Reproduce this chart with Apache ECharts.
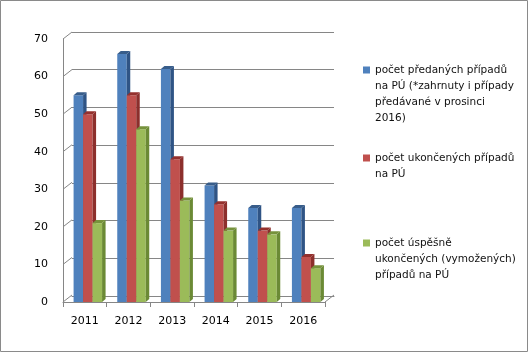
<!DOCTYPE html>
<html>
<head>
<meta charset="utf-8">
<script src="https://cdn.jsdelivr.net/npm/echarts@6/dist/echarts.min.js"></script>
<style>
  html, body { margin: 0; padding: 0; background: #fff; }
  #chart { width: 529px; height: 353px; }
</style>
</head>
<body>
<div id="chart"></div>
<script>
const years = ['2011', '2012', '2013', '2014', '2015', '2016'];
const predane = [55, 66, 62, 31, 25, 25];
const ukoncene = [50, 55, 38, 26, 19, 12];
const uspesne = [21, 46, 27, 19, 18, 9];
const yTicks = [0, 10, 20, 30, 40, 50, 60, 70];

const names = [
  'počet předaných případů\nna PÚ (*zahrnuty i případy\npředávané v prosinci\n2016)',
  'počet ukončených případů\nna PÚ',
  'počet úspěšně\nukončených (vymožených)\npřípadů na PÚ'
];

const font = 'DejaVu Sans';
const gridColor = '#868686';

// 3D-looking bar: front face, darker side and top
function bar3d(k, front, side, top) {
  return function (params, api) {
    const i = api.value(0);
    const v = api.value(1);
    const p0 = api.coord([i, 0]);
    const p1 = api.coord([i, v]);
    const w = 9.5, dx = 3.5, dy = -3;
    const x = p0[0] + (k - 1) * w - w / 2 + 3;
    return {
      type: 'group',
      children: [
        { type: 'rect', shape: { x: x, y: p1[1], width: w, height: p0[1] - p1[1] }, style: { fill: front } },
        { type: 'polygon', shape: { points: [[x + w, p1[1]], [x + w + dx, p1[1] + dy], [x + w + dx, p0[1] + dy], [x + w, p0[1]]] }, style: { fill: side } },
        { type: 'polygon', shape: { points: [[x, p1[1]], [x + dx, p1[1] + dy], [x + w + dx, p1[1] + dy], [x + w, p1[1]]] }, style: { fill: top } }
      ]
    };
  };
}

function legendName(n, pad) {
  return '\n'.repeat(pad) + n;
}

const chart = echarts.init(document.getElementById('chart'));
chart.setOption({
  animation: false,
  backgroundColor: '#fff',
  textStyle: { fontFamily: font },
  graphic: [{
    type: 'rect', shape: { x: 0.5, y: 0.5, width: 527, height: 351 },
    style: { fill: 'none', stroke: '#8a8a8a', lineWidth: 1 }, silent: true
  }],
  legend: [
    { data: [names[0]], top: 14 },
    { data: [names[1]], top: 134 },
    { data: [names[2]], top: 203 }
  ].map((l, j) => Object.assign(l, {
    left: 363, orient: 'vertical', padding: 0,
    icon: 'rect', itemWidth: 7, itemHeight: 7, itemGap: 5,
    selectedMode: false,
    formatter: n => legendName(n, [3, 1, 2][j]),
    textStyle: { fontFamily: font, fontSize: 10.5, color: '#111', lineHeight: 16 }
  })),
  grid: [
    { left: 72, right: 195, top: 32, bottom: 57 },
    { left: 63, right: 204, top: 39, bottom: 51 }
  ],
  xAxis: [
    {
      gridIndex: 0, type: 'category', data: years,
      axisLine: { lineStyle: { color: gridColor } },
      axisTick: { show: false }, axisLabel: { show: false }
    },
    {
      gridIndex: 1, type: 'category', data: years,
      axisLine: { lineStyle: { color: gridColor } },
      axisTick: { show: true, length: 5, lineStyle: { color: gridColor } },
      axisLabel: { color: '#000', fontSize: 11, margin: 14, fontFamily: font }
    }
  ],
  yAxis: [
    {
      gridIndex: 0, type: 'value', min: 0, max: 70, interval: 10,
      axisLine: { show: false }, axisTick: { show: false }, axisLabel: { show: false },
      splitLine: { lineStyle: { color: gridColor } }
    },
    {
      gridIndex: 1, type: 'value', min: 0, max: 70, interval: 10,
      axisLine: { show: true, lineStyle: { color: gridColor } },
      axisTick: { show: false },
      axisLabel: { color: '#000', fontSize: 11, margin: 15, fontFamily: font },
      splitLine: { show: false }
    }
  ],
  series: [
    {
      // diagonal links from the front axis to the back wall
      type: 'custom', xAxisIndex: 1, yAxisIndex: 1, silent: true,
      data: yTicks.map(v => [0, v]),
      renderItem: function (params, api) {
        const cs = params.coordSys;
        const y = api.coord([0, api.value(1)])[1];
        const lines = [{ type: 'line', shape: { x1: cs.x, y1: y, x2: cs.x + 9, y2: y - 7 }, style: { stroke: gridColor, lineWidth: 1 } }];
        if (api.value(1) === 0) {
          lines.push({ type: 'line', shape: { x1: cs.x + cs.width, y1: y, x2: cs.x + cs.width + 9, y2: y - 7 }, style: { stroke: gridColor, lineWidth: 1 } });
        }
        return { type: 'group', children: lines };
      }
    },
    {
      name: names[0], type: 'custom', xAxisIndex: 1, yAxisIndex: 1,
      itemStyle: { color: '#4F81BD' },
      data: predane.map((v, i) => [i, v]),
      renderItem: bar3d(0, '#4F81BD', '#2F5485', '#385D8A')
    },
    {
      name: names[1], type: 'custom', xAxisIndex: 1, yAxisIndex: 1,
      itemStyle: { color: '#C0504D' },
      data: ukoncene.map((v, i) => [i, v]),
      renderItem: bar3d(1, '#C0504D', '#8C2F2C', '#94302D')
    },
    {
      name: names[2], type: 'custom', xAxisIndex: 1, yAxisIndex: 1,
      itemStyle: { color: '#9BBB59' },
      data: uspesne.map((v, i) => [i, v]),
      renderItem: bar3d(2, '#9BBB59', '#6B8A35', '#76923C')
    }
  ]
});
</script>
</body>
</html>
